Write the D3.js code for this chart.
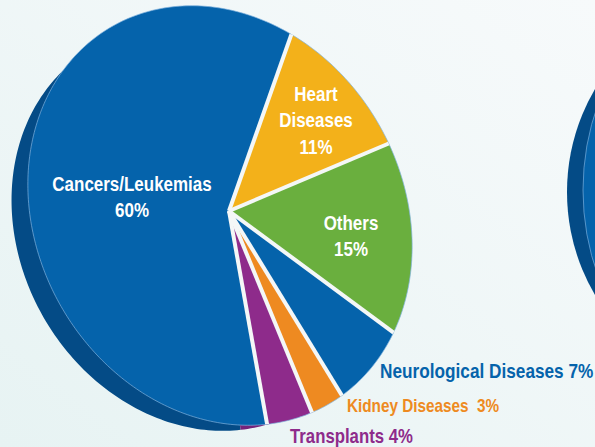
<!DOCTYPE html>
<html>
<head>
<meta charset="utf-8">
<script src="https://cdn.jsdelivr.net/npm/d3@7"></script>
<style>
  html, body { margin: 0; padding: 0; background: #f1f7f8; }
  svg { display: block; font-family: "Liberation Sans", Arial, sans-serif; font-weight: bold; }
  text { white-space: pre; }
</style>
</head>
<body>
<svg id="chart" width="595" height="447"></svg>
<script>
// data
const categories = ["Cancers/Leukemias", "Heart Diseases", "Others", "Neurological Diseases", "Kidney Diseases", "Transplants"];
const shares = [60, 11, 15, 7, 3, 4];
const shareLabels = ["60%", "11%", "15%", "7%", "3%", "4%"];
const sliceColors = ["#0563ab", "#f3b11a", "#6aaf3e", "#0563ab", "#ee8a21", "#8e2b8b"];
const sideColors = ["#044b86", "#b8850f", "#4e8a2b", "#044b86", "#b56512", "#74237a"];

const svg = d3.select("#chart");
const W = 595, H = 447;

// --- background ---
const defs = svg.append("defs");
const bg = defs.append("linearGradient").attr("id", "bg")
  .attr("x1", "1").attr("y1", "0").attr("x2", "0").attr("y2", "1");
bg.append("stop").attr("offset", "0%").attr("stop-color", "#f7fafb");
bg.append("stop").attr("offset", "100%").attr("stop-color", "#e7f3f3");
svg.append("rect").attr("width", W).attr("height", H).attr("fill", "url(#bg)");

// --- tilted pie geometry (ellipse rim, apex slightly off centre) ---
const C = [220, 215.5];
const rx = 183.1, ry = 217.7;
const tilt = -29.65 * Math.PI / 180;
const apex = [229, 211];
const eu = [Math.cos(tilt), Math.sin(tilt)];
const ev = [-Math.sin(tilt), Math.cos(tilt)];
function rim(a) {
  const s = Math.sin(a) * rx, c = -Math.cos(a) * ry;
  return [C[0] + s * eu[0] + c * ev[0], C[1] + s * eu[1] + c * ev[1]];
}

const start = -160.1 * Math.PI / 180;
const pie = d3.pie().sort(null).value(d => d)
  .startAngle(start).endAngle(start + 2 * Math.PI);
const arcs = pie(shares);

const closed = d3.line().curve(d3.curveLinearClosed);
function slicePath(d) {
  const n = Math.max(4, Math.ceil((d.endAngle - d.startAngle) / 0.02));
  const pts = [apex];
  for (let i = 0; i <= n; i++) pts.push(rim(d.startAngle + (d.endAngle - d.startAngle) * i / n));
  return closed(pts);
}
const rimPts = d3.range(0, 361).map(i => rim(start + i * Math.PI / 180));

// second pie peeking at right edge (decorative)
svg.append("ellipse").attr("cx", 767).attr("cy", 192).attr("rx", 200).attr("ry", 202).attr("fill", "#044b86");
svg.append("ellipse").attr("cx", 783).attr("cy", 190).attr("rx", 200).attr("ry", 226)
  .attr("fill", "#0563ab").attr("stroke", "#79aedc").attr("stroke-width", 0.7);

// side / depth of main pie: bottom face, slightly smaller and shifted down-left
const depth = [-24.4, 14.4], shrink = 0.958;
svg.append("g")
  .attr("transform", `translate(${C[0] + depth[0]},${C[1] + depth[1]}) scale(${shrink}) translate(${-C[0]},${-C[1]})`)
  .selectAll("path").data(arcs).join("path")
  .attr("d", slicePath)
  .attr("fill", (d, i) => sideColors[i]);

// front faces
svg.append("g").selectAll("path").data(arcs).join("path")
  .attr("d", slicePath)
  .attr("fill", (d, i) => sliceColors[i]);

// thin highlight along the rim
svg.append("path").attr("d", closed(rimPts))
  .attr("fill", "none").attr("stroke", "#7fb2de").attr("stroke-width", 0.7);

// white separators
svg.append("g").selectAll("line").data(arcs).join("line")
  .attr("x1", apex[0]).attr("y1", apex[1])
  .attr("x2", d => rim(d.startAngle)[0]).attr("y2", d => rim(d.startAngle)[1])
  .attr("stroke", "#f4f7f7").attr("stroke-width", 4);

// --- labels ---
const inside = [
  { i: 0, x: 132, y: 191 },
  { i: 1, x: 316, y: 101 },
  { i: 2, x: 351, y: 230 }
];
inside.forEach(l => {
  const lines = categories[l.i].split(" ").concat(shareLabels[l.i]);
  const t = svg.append("text")
    .attr("transform", `translate(${l.x},${l.y}) scale(0.87,1)`)
    .attr("text-anchor", "middle").attr("fill", "#ffffff").attr("font-size", 19.5);
  lines.forEach((s, k) => t.append("tspan").attr("x", 0).attr("y", k * 26.5).text(s));
});

const outside = [
  { i: 3, x: 380, y: 378, size: 20.5, sq: 0.84, gap: " " },
  { i: 4, x: 347, y: 412, size: 18, sq: 0.85, gap: "  " },
  { i: 5, x: 290, y: 443, size: 19.5, sq: 0.86, gap: " " }
];
outside.forEach(l => {
  svg.append("text")
    .attr("transform", `translate(${l.x},${l.y}) scale(${l.sq},1)`)
    .attr("fill", sliceColors[l.i]).attr("font-size", l.size)
    .text(categories[l.i] + l.gap + shareLabels[l.i]);
});
</script>
</body>
</html>
